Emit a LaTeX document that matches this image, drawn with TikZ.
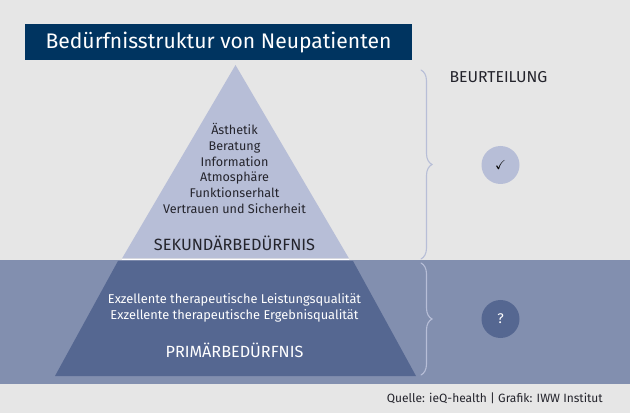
\documentclass[tikz,border=0pt]{standalone}
\usepackage{amssymb}
\usepackage{fontspec}
\setmainfont{Fira Sans}
\usetikzlibrary{%
  calc,%
  decorations.pathreplacing% wg. brace
}
\definecolor{bgGrey}{HTML}{E6E6E6}
\definecolor{titleBlue}{HTML}{003460}
\definecolor{paleBlue}{HTML}{B7BED7}
\definecolor{bandBlue}{HTML}{828FAF}
\definecolor{deepBlue}{HTML}{556791}
\definecolor{inkGrey}{HTML}{24242C}

\begin{document}
\begin{tikzpicture}[
  x=1pt, y=1pt, line cap=round,
  dark/.style={text=inkGrey, inner sep=0pt, align=center},
  light/.style={text=white, inner sep=0pt, align=center},
  badge/.style={circle, minimum size=38pt, inner sep=0pt},
  curly/.style={line width=1.1pt, decoration={brace, amplitude=11pt, aspect=0.5}, decorate}
]
\useasboundingbox (0,0) rectangle (630,413);

\fill[bgGrey] (0,0) rectangle (630,413);
\fill[bandBlue] (0,29.5) rectangle (630,152.5);

% pyramid
\fill[paleBlue] (235.5,348) -- (349,154.5) -- (122,154.5) -- cycle;
\fill[deepBlue] (118,152) -- (353,152) -- (416,37) -- (55,37) -- cycle;
\draw[white, line width=1.6pt, line cap=butt] (122,153.3) -- (349,153.3);

% title
\node[fill=titleBlue, text=white, minimum width=387pt, minimum height=36pt, inner sep=0pt,
  font=\fontsize{21.1}{24}\selectfont] (title) at (218.5,370.5) {Bedürfnisstruktur von Neupatienten};

% texts
\node[dark, font=\fontsize{12.6}{15.8}\selectfont] (secondary) at (234.5,244.5)
  {Ästhetik\\Beratung\\Information\\Atmosphäre\\Funktionserhalt\\Vertrauen und Sicherheit};
\node[dark, font=\fontsize{16.3}{17}\selectfont] (sekundaer) at (234.5,170) {SEKUNDÄRBEDÜRFNIS};
\node[light, font=\fontsize{12.8}{15.5}\selectfont] (primary) at (234.5,105)
  {Exzellente therapeutische Leistungsqualität\\Exzellente therapeutische Ergebnisqualität};
\node[light, font=\fontsize{16.2}{17}\selectfont] (primaer) at (234.5,63) {PRIMÄRBEDÜRFNIS};
\node[dark, font=\fontsize{15.8}{17}\selectfont] (beurteilung) at (498.5,336) {BEURTEILUNG};
\node[dark, font=\fontsize{12}{16}\selectfont, anchor=east] (source) at (603,15) {Quelle: ieQ-health | Grafik: IWW Institut};

% badges
\node[badge, fill=paleBlue, text=black, font=\fontsize{13}{16}\selectfont] (good) at (500.5,248) {$\checkmark$};
\node[badge, fill=deepBlue, text=white, font=\fontsize{14}{16}\selectfont] (open) at (500.5,94) {?};

% braces
\coordinate (b1top) at (421,343);
\coordinate (b1bot) at (421,154);
\coordinate (b2top) at (421,150);
\coordinate (b2bot) at (421,38);
\draw[curly, paleBlue] (b1top) -- (b1bot);
\draw[curly, paleBlue] (b2top) -- (b2bot);
\end{tikzpicture}
\end{document}
